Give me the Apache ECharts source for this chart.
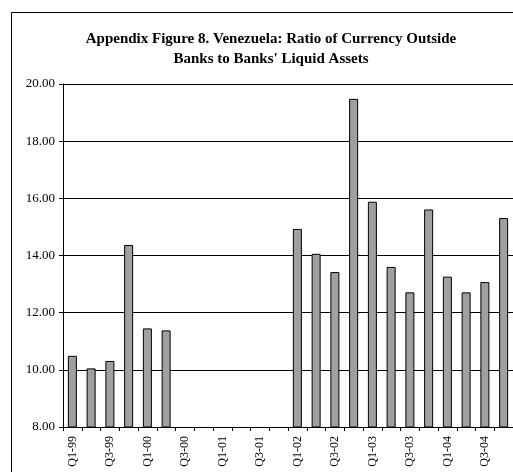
<!DOCTYPE html>
<html>
<head>
<meta charset="utf-8">
<script src="https://cdn.jsdelivr.net/npm/echarts@6/dist/echarts.min.js"></script>
<style>
  html, body { margin: 0; padding: 0; background: #fff; }
  #chart { width: 513px; height: 472px; }
</style>
</head>
<body>
<div id="chart"></div>
<script>
// quarters, Q1-99 .. Q4-04
var quarters = ['Q1-99', 'Q2-99', 'Q3-99', 'Q4-99',
  'Q1-00', 'Q2-00', 'Q3-00', 'Q4-00',
  'Q1-01', 'Q2-01', 'Q3-01', 'Q4-01',
  'Q1-02', 'Q2-02', 'Q3-02', 'Q4-02',
  'Q1-03', 'Q2-03', 'Q3-03', 'Q4-03',
  'Q1-04', 'Q2-04', 'Q3-04', 'Q4-04']
// ratio of currency outside banks to banks' liquid assets (gap = no data)
var ratio = [10.49, 10.05, 10.31, 14.37,
  11.45, 11.38, null, null,
  null, null, null, null,
  14.93, 14.06, 13.42, 19.48,
  15.88, 13.60, 12.71, 15.61,
  13.26, 12.71, 13.07, 15.31]

var serif = '"Liberation Serif", "DejaVu Serif", serif'
var chart = echarts.init(document.getElementById('chart'))

chart.setOption({
  animation: false,
  title: {
    text: 'Appendix Figure 8. Venezuela: Ratio of Currency Outside\nBanks to Banks\' Liquid Assets',
    left: 266,
    top: 24,
    textAlign: 'center',
    textStyle: {
      fontFamily: serif,
      fontSize: 15,
      fontWeight: 'bold',
      color: '#000',
      lineHeight: 20
    }
  },
  graphic: [
    {
      type: 'rect',
      shape: { x: 11.5, y: 12.5, width: 600, height: 600 },
      style: { fill: 'none', stroke: '#000', lineWidth: 1 },
      silent: true
    }
  ],
  grid: {
    left: 63,
    top: 84,
    width: 452,
    bottom: 45
  },
  xAxis: {
    type: 'category',
    data: quarters,
    boundaryGap: true,
    axisLine: { lineStyle: { color: '#000', width: 1 } },
    axisTick: { show: true, length: 4, interval: 0, lineStyle: { color: '#000' } },
    axisLabel: {
      interval: 1,
      rotate: 90,
      margin: 9,
      fontFamily: serif,
      fontSize: 12,
      color: '#000'
    },
    splitLine: { show: false }
  },
  yAxis: {
    type: 'value',
    min: 8,
    max: 20,
    interval: 2,
    axisLine: { show: true, lineStyle: { color: '#000', width: 1 } },
    axisTick: { show: true, length: 4, lineStyle: { color: '#000' } },
    axisLabel: {
      margin: 8,
      fontFamily: serif,
      fontSize: 13,
      color: '#000',
      formatter: function (v) { return v.toFixed(2) }
    },
    splitLine: { show: true, lineStyle: { color: '#000', width: 1 } }
  },
  series: [
    {
      type: 'bar',
      data: ratio,
      barWidth: 9,
      itemStyle: {
        color: '#a0a0a0',
        borderColor: '#000',
        borderWidth: 1
      }
    }
  ]
})
</script>
</body>
</html>
